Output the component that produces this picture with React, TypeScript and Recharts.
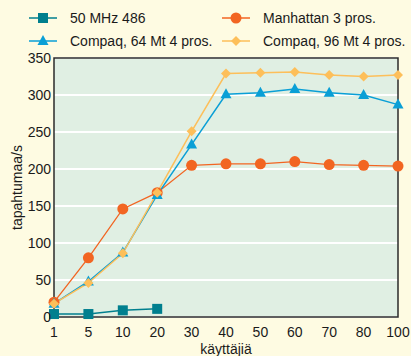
import React from "react";
import { CartesianGrid, Line, LineChart, ReferenceArea, XAxis, YAxis } from "recharts";

// users on the x axis (categories, evenly spaced)
const users = ["1", "5", "10", "20", "30", "40", "50", "60", "70", "80", "100"];
const mhz486 = [4, 4, 9, 11];
const manhattan = [20, 80, 146, 168, 205, 207, 207, 210, 206, 205, 204];
const compaq64 = [18, 48, 87, 165, 233, 301, 303, 308, 303, 300, 287];
const compaq96 = [18, 46, 86, 168, 251, 329, 330, 331, 327, 325, 327];
const yTicks = [0, 50, 100, 150, 200, 250, 300, 350];

const data = users.map((u, i) => ({
  users: u,
  mhz486: i < mhz486.length ? mhz486[i] : null,
  manhattan: manhattan[i],
  compaq64: compaq64[i],
  compaq96: compaq96[i],
}));

const TEAL = "#007f8e";
const ORANGE = "#f26522";
const BLUE = "#0a9fd6";
const YELLOW = "#fdbf5a";
const FONT = "'Liberation Sans', Arial, sans-serif";

type Shape = "square" | "circle" | "triangle" | "diamond";

function marker(shape: Shape, cx: number, cy: number, color: string) {
  switch (shape) {
    case "square":
      return <rect x={cx - 5} y={cy - 5} width={10} height={10} fill={color} />;
    case "circle":
      return <circle cx={cx} cy={cy} r={5.5} fill={color} />;
    case "triangle":
      return (
        <polygon
          points={`${cx},${cy - 6} ${cx + 5.5},${cy + 4} ${cx - 5.5},${cy + 4}`}
          fill={color}
        />
      );
    default:
      return (
        <polygon
          points={`${cx},${cy - 5} ${cx + 5},${cy} ${cx},${cy + 5} ${cx - 5},${cy}`}
          fill={color}
        />
      );
  }
}

const dotFor = (shape: Shape, color: string) => (props: any) => {
  const { cx, cy, index, value } = props;
  if (cy == null || value == null || Number.isNaN(cy)) return <g key={index} />;
  return <g key={index}>{marker(shape, cx, cy, color)}</g>;
};

const legendItems = [
  { name: "50 MHz 486", shape: "square" as Shape, color: TEAL, x: 29, y: 18 },
  { name: "Manhattan 3 pros.", shape: "circle" as Shape, color: ORANGE, x: 222, y: 18 },
  { name: "Compaq, 64 Mt 4 pros.", shape: "triangle" as Shape, color: BLUE, x: 29, y: 41 },
  { name: "Compaq, 96 Mt 4 pros.", shape: "diamond" as Shape, color: YELLOW, x: 222, y: 41 },
];

export default function App() {
  return (
    <div
      style={{
        position: "absolute",
        left: 0,
        top: 0,
        width: 411,
        height: 356,
        background: "#fefbe2",
        fontFamily: FONT,
        overflow: "hidden",
      }}
    >
      <svg width={411} height={56} style={{ position: "absolute", left: 0, top: 0 }}>
        {legendItems.map((it) => (
          <g key={it.name}>
            <line x1={it.x} x2={it.x + 28} y1={it.y} y2={it.y} stroke={it.color} strokeWidth={1.5} />
            {marker(it.shape, it.x + 14, it.y, it.color)}
            <text
              x={it.x + 41}
              y={it.y + 5}
              fontSize={14}
              fill="#1a1a1a"
              fontFamily={FONT}
            >
              {it.name}
            </text>
          </g>
        ))}
      </svg>
      <LineChart
        width={411}
        height={356}
        data={data}
        margin={{ top: 58, right: 13, bottom: 0, left: 0 }}
        style={{ position: "absolute", left: 0, top: 0 }}
      >
        <CartesianGrid
          vertical={false}
          stroke="#ffffff"
          strokeWidth={2}
          fill="#e0efe3"
          fillOpacity={1}
        />
        <XAxis
          dataKey="users"
          height={39}
          interval={0}
          axisLine={false}
          tickLine={false}
          tickSize={0}
          tickMargin={10}
          tick={{ fontSize: 14, fill: "#1a1a1a", fontFamily: FONT }}
          label={{
            value: "käyttäjiä",
            position: "insideBottom",
            offset: 2,
            style: { fontSize: 14, fill: "#1a1a1a", fontFamily: FONT },
          }}
        />
        <YAxis
          width={54}
          domain={[0, 350]}
          ticks={yTicks}
          interval={0}
          axisLine={false}
          tickLine={false}
          tickSize={0}
          tickMargin={3}
          tick={{ fontSize: 14, fill: "#1a1a1a", fontFamily: FONT }}
          label={{
            value: "tapahtumaa/s",
            angle: -90,
            position: "insideLeft",
            offset: 17,
            style: { fontSize: 14, fill: "#1a1a1a", fontFamily: FONT, textAnchor: "middle" },
          }}
        />
        <Line
          dataKey="manhattan"
          stroke={ORANGE}
          strokeWidth={1.3}
          dot={dotFor("circle", ORANGE)}
          isAnimationActive={false}
        />
        <Line
          dataKey="compaq64"
          stroke={BLUE}
          strokeWidth={1.5}
          dot={dotFor("triangle", BLUE)}
          isAnimationActive={false}
        />
        <Line
          dataKey="compaq96"
          stroke={YELLOW}
          strokeWidth={1.5}
          dot={dotFor("diamond", YELLOW)}
          isAnimationActive={false}
        />
        <Line
          dataKey="mhz486"
          stroke={TEAL}
          strokeWidth={1.5}
          dot={dotFor("square", TEAL)}
          isAnimationActive={false}
        />
        <ReferenceArea
          x1="1"
          x2="100"
          y1={0}
          y2={350}
          fill="none"
          stroke="#2b2b2b"
          strokeWidth={1.5}
          ifOverflow="visible"
        />
      </LineChart>
    </div>
  );
}
